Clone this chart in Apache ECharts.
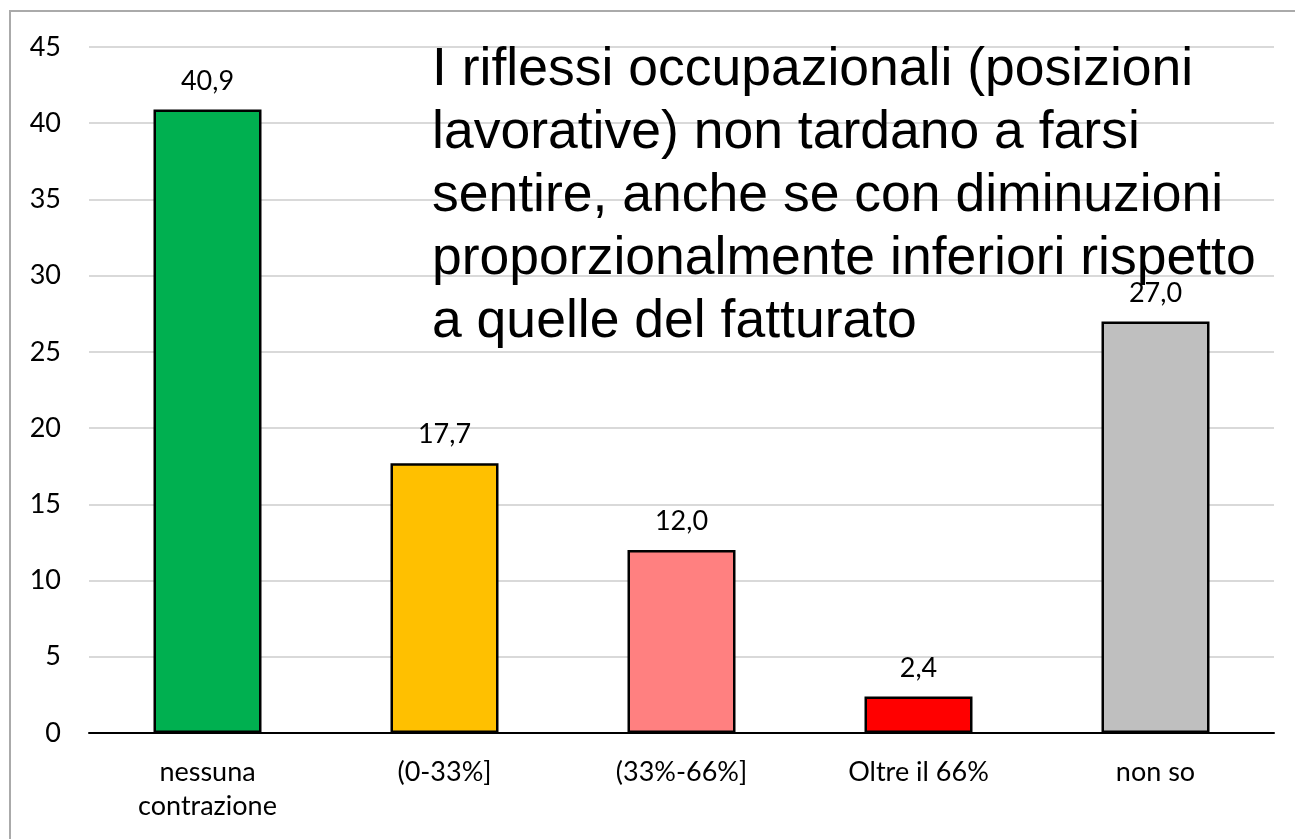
<!DOCTYPE html>
<html>
<head>
<meta charset="utf-8">
<script src="https://cdn.jsdelivr.net/npm/echarts@6/dist/echarts.min.js"></script>
<style>
  html, body { margin: 0; padding: 0; background: #fff; }
  #chart { width: 1295px; height: 839px; }
</style>
</head>
<body>
<div id="chart"></div>
<script>
// categorie e valori
var categories = ["nessuna\ncontrazione", "(0-33%]", "(33%-66%]", "Oltre il 66%", "non so"];
var values = [40.9, 17.7, 12.0, 2.4, 27.0];
var barColors = ["#00B050", "#FFC000", "#FF8080", "#FF0000", "#BFBFBF"];
var yTicks = [0, 5, 10, 15, 20, 25, 30, 35, 40, 45];
var overlayText = "I riflessi occupazionali (posizioni\nlavorative) non tardano a farsi\nsentire, anche se con diminuzioni\nproporzionalmente inferiori rispetto\na quelle del fatturato";

var labelFont = "Lato";
var chart = echarts.init(document.getElementById("chart"));

var option = {
  backgroundColor: "#fff",
  animation: false,
  grid: {
    left: 89,
    right: 21,
    top: 47,
    bottom: 106
  },
  xAxis: {
    type: "category",
    data: categories,
    axisLine: { lineStyle: { color: "#000", width: 2 } },
    axisTick: { show: false },
    axisLabel: {
      color: "#000",
      fontFamily: labelFont,
      fontSize: 27,
      lineHeight: 34,
      margin: 22,
      verticalAlign: "top"
    }
  },
  yAxis: {
    type: "value",
    min: yTicks[0],
    max: yTicks[yTicks.length - 1],
    interval: 5,
    axisLine: { show: false },
    axisTick: { show: false },
    splitLine: { lineStyle: { color: "#D9D9D9", width: 2 } },
    axisLabel: {
      color: "#000",
      fontFamily: labelFont,
      fontSize: 27,
      margin: 28
    }
  },
  series: [
    {
      type: "bar",
      barWidth: 108,
      data: values.map(function (v, i) {
        return {
          value: v,
          itemStyle: { color: barColors[i] }
        };
      }),
      itemStyle: { borderColor: "#000", borderWidth: 2.5 },
      label: {
        show: true,
        position: "top",
        distance: 15,
        color: "#000",
        fontFamily: labelFont,
        fontSize: 27,
        formatter: function (p) {
          return p.value.toFixed(1).replace(".", ",");
        }
      }
    }
  ],
  graphic: [
    {
      type: "rect",
      silent: true,
      shape: { x: 10, y: 11, width: 1400, height: 900 },
      style: { fill: "none", stroke: "#AAAAAA", lineWidth: 2 },
      z: -10
    },
    {
      type: "text",
      left: 432,
      top: 39,
      z: 100,
      style: {
        text: overlayText,
        font: '53.5px "Liberation Sans", Arial, sans-serif',
        lineHeight: 63,
        fill: "#000"
      }
    }
  ]
};

chart.setOption(option);
</script>
</body>
</html>
